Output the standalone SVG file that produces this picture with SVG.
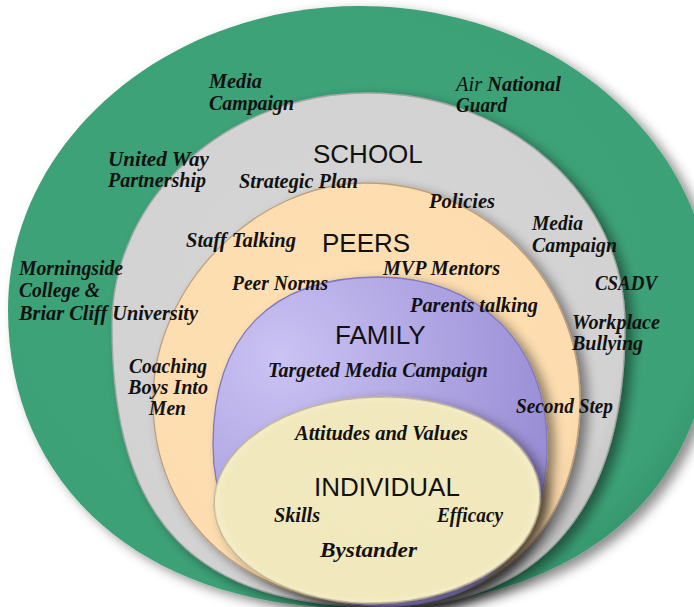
<svg xmlns="http://www.w3.org/2000/svg" width="694" height="607" viewBox="0 0 694 607">
  <defs>
    <style>
      .lbl { font-family: "Liberation Serif", "Times New Roman", serif; font-weight: bold; font-style: italic; font-size: 20px; fill: #111; }
      .big { font-family: "Liberation Sans", Arial, sans-serif; font-size: 26px; fill: #111; }
      .edge { stroke-width: 1.3; }
    </style>
    <filter id="sh" x="-10%" y="-10%" width="130%" height="130%">
      <feDropShadow dx="7" dy="5" stdDeviation="6" flood-color="#000" flood-opacity="0.45"/>
    </filter>
    <radialGradient id="gGreen" cx="0.45" cy="0.45" r="0.6">
      <stop offset="0" stop-color="#3DA47A"/>
      <stop offset="0.9" stop-color="#3CA177"/>
      <stop offset="1" stop-color="#35956D"/>
    </radialGradient>
    <radialGradient id="gGrey" cx="0.45" cy="0.45" r="0.6">
      <stop offset="0" stop-color="#D6D6D6"/>
      <stop offset="0.9" stop-color="#D2D2D2"/>
      <stop offset="1" stop-color="#C2C2C2"/>
    </radialGradient>
    <radialGradient id="gPeach" cx="0.45" cy="0.45" r="0.6">
      <stop offset="0" stop-color="#FEE0B4"/>
      <stop offset="0.9" stop-color="#FDDDAF"/>
      <stop offset="1" stop-color="#F2CFA0"/>
    </radialGradient>
    <radialGradient id="gPurple" cx="0.2" cy="0.25" r="0.9">
      <stop offset="0" stop-color="#CAC3F3"/>
      <stop offset="0.6" stop-color="#ABA0E0"/>
      <stop offset="1" stop-color="#958AD2"/>
    </radialGradient>
    <radialGradient id="gYellow" cx="0.5" cy="0.5" r="0.55">
      <stop offset="0" stop-color="#F2E9BF"/>
      <stop offset="0.85" stop-color="#F1E8BD"/>
      <stop offset="1" stop-color="#FBF5D8"/>
    </radialGradient>
  </defs>

  <g id="community">
    <path filter="url(#sh)" fill="url(#gGreen)" d="M360,6 C166,6 8,142 8,310 C8,489 147,608 355,608 C576,608 712,495 712,310 C712,142 554,6 360,6 Z"/>
  </g>
  <g id="school">
    <path filter="url(#sh)" class="edge" fill="url(#gGrey)" stroke="#A5A5A5" d="M368,93 C227,93 112,197 112,325 C112,522 194,607 385,607 C541,607 625,508 625,325 C625,197 509,93 368,93 Z"/>
  </g>
  <g id="peers">
    <path filter="url(#sh)" class="edge" fill="url(#gPeach)" stroke="#BF9E78" d="M366,183 C255,183 153,287 153,400 C153,523 246,605 385,605 C502,605 580,523 580,400 C580,280 484,183 366,183 Z"/>
  </g>
  <g id="family">
    <path filter="url(#sh)" class="edge" fill="url(#gPurple)" stroke="#8177BE" d="M378,277 C271,277 213,336 213,445 C213,542 282,606 385,606 C488,606 547,542 547,445 C547,344 479,277 378,277 Z"/>
  </g>
  <g id="individual">
    <ellipse filter="url(#sh)" class="edge" cx="377" cy="500" rx="163" ry="103" transform="rotate(-2 377 500)" fill="url(#gYellow)" stroke="#BDB38C"/>
  </g>

  <g id="labels">
    <g id="community-labels">
      <text class="lbl" x="209" y="88" textLength="53" lengthAdjust="spacingAndGlyphs">Media</text>
      <text class="lbl" x="209" y="110" textLength="85" lengthAdjust="spacingAndGlyphs">Campaign</text>
      <text class="lbl" x="108" y="166" textLength="101" lengthAdjust="spacingAndGlyphs">United Way</text>
      <text class="lbl" x="108" y="187" textLength="98" lengthAdjust="spacingAndGlyphs">Partnership</text>
      <text class="lbl" x="456" y="91" textLength="105" lengthAdjust="spacingAndGlyphs"><tspan font-weight="normal">Air</tspan> National</text>
      <text class="lbl" x="456" y="112" textLength="51" lengthAdjust="spacingAndGlyphs">Guard</text>
      <text class="lbl" x="19" y="275" textLength="104" lengthAdjust="spacingAndGlyphs">Morningside</text>
      <text class="lbl" x="19" y="297" textLength="81" lengthAdjust="spacingAndGlyphs">College &amp;</text>
      <text class="lbl" x="19" y="320" textLength="179" lengthAdjust="spacingAndGlyphs">Briar Cliff University</text>
      <text class="lbl" x="595" y="290" textLength="62" lengthAdjust="spacingAndGlyphs">CSADV</text>
    </g>
    <g id="school-labels">
      <text class="big" x="313" y="163">SCHOOL</text>
      <text class="lbl" x="239" y="188" textLength="119" lengthAdjust="spacingAndGlyphs">Strategic Plan</text>
      <text class="lbl" x="429" y="208" textLength="66" lengthAdjust="spacingAndGlyphs">Policies</text>
      <text class="lbl" x="532" y="230" textLength="51" lengthAdjust="spacingAndGlyphs">Media</text>
      <text class="lbl" x="532" y="252" textLength="85" lengthAdjust="spacingAndGlyphs">Campaign</text>
      <text class="lbl" x="186" y="247" textLength="110" lengthAdjust="spacingAndGlyphs">Staff Talking</text>
      <text class="lbl" x="572" y="329" textLength="88" lengthAdjust="spacingAndGlyphs">Workplace</text>
      <text class="lbl" x="572" y="350" textLength="71" lengthAdjust="spacingAndGlyphs">Bullying</text>
      <text class="lbl" x="129" y="373" textLength="78" lengthAdjust="spacingAndGlyphs">Coaching</text>
      <text class="lbl" x="128" y="394" textLength="80" lengthAdjust="spacingAndGlyphs">Boys Into</text>
      <text class="lbl" x="149" y="415" textLength="37" lengthAdjust="spacingAndGlyphs">Men</text>
    </g>
    <g id="peers-labels">
      <text class="big" x="322" y="252">PEERS</text>
      <text class="lbl" x="232" y="290" textLength="96" lengthAdjust="spacingAndGlyphs">Peer Norms</text>
      <text class="lbl" x="383" y="275" textLength="117" lengthAdjust="spacingAndGlyphs">MVP Mentors</text>
      <text class="lbl" x="516" y="413" textLength="97" lengthAdjust="spacingAndGlyphs">Second Step</text>
    </g>
    <g id="family-labels">
      <text class="big" x="335" y="344">FAMILY</text>
      <text class="lbl" x="410" y="312" textLength="128" lengthAdjust="spacingAndGlyphs">Parents talking</text>
      <text class="lbl" x="268" y="377" textLength="220" lengthAdjust="spacingAndGlyphs">Targeted Media Campaign</text>
    </g>
    <g id="individual-labels">
      <text class="lbl" x="295" y="440" textLength="173" lengthAdjust="spacingAndGlyphs">Attitudes and Values</text>
      <text class="big" x="314" y="496" font-size="22">INDIVIDUAL</text>
      <text class="lbl" x="274" y="522" textLength="46" lengthAdjust="spacingAndGlyphs">Skills</text>
      <text class="lbl" x="437" y="522" textLength="66" lengthAdjust="spacingAndGlyphs">Efficacy</text>
      <text class="lbl" x="320" y="557" font-size="22" textLength="97" lengthAdjust="spacingAndGlyphs">Bystander</text>
    </g>
  </g>

  <g id="connectors"></g>
</svg>
